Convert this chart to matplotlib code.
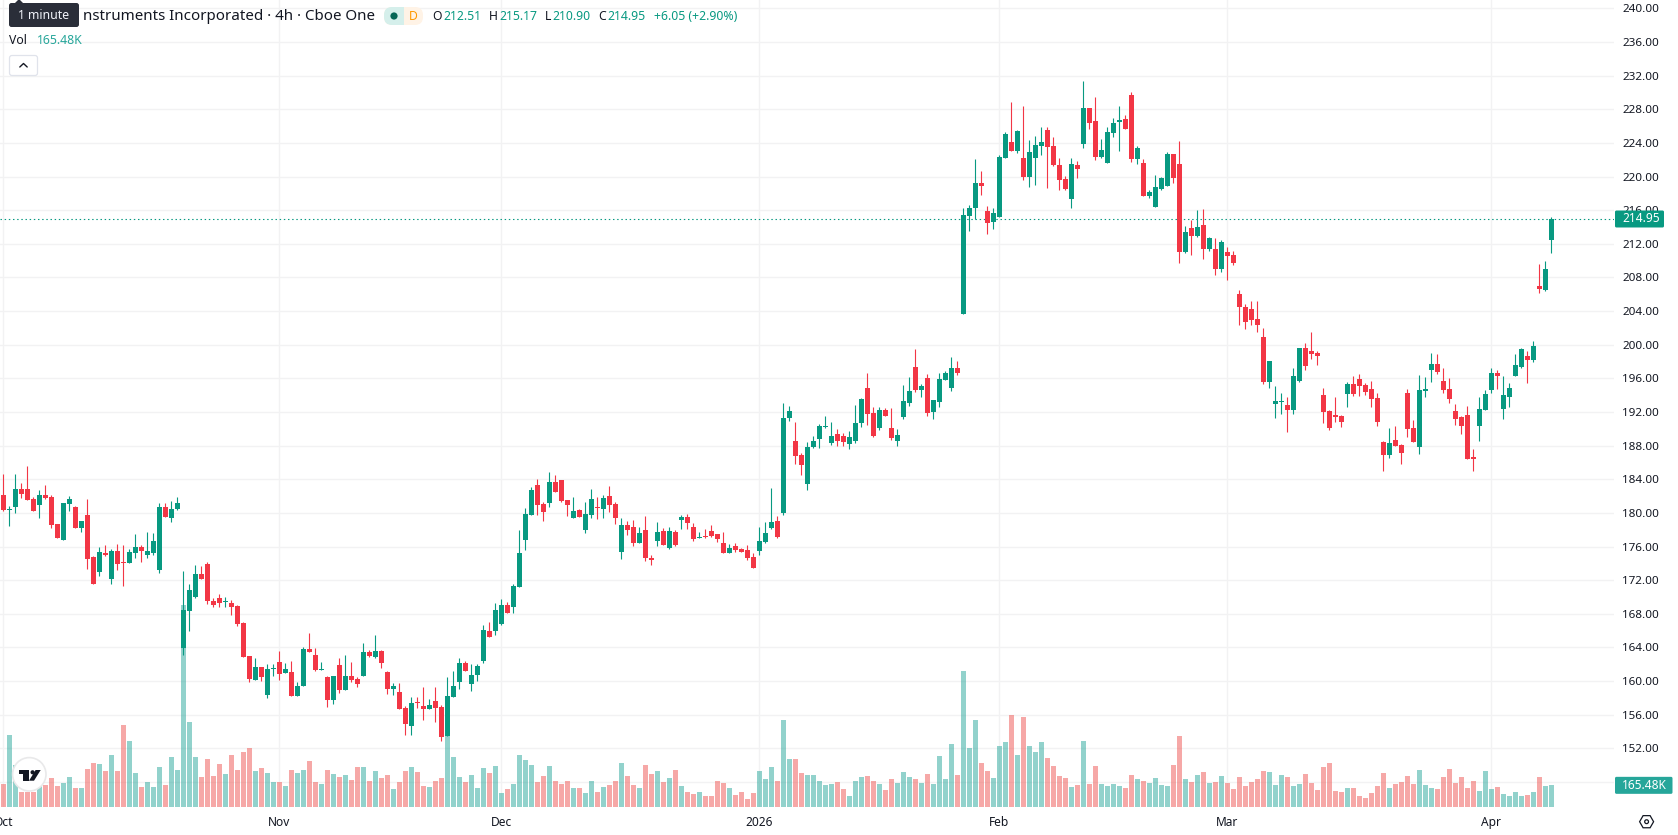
import matplotlib
matplotlib.use("Agg")
import matplotlib.pyplot as plt
from matplotlib.patches import Circle, FancyBboxPatch, Polygon, Rectangle, RegularPolygon
from matplotlib.transforms import blended_transform_factory

plt.rcParams['font.family'] = ['Noto Sans', 'DejaVu Sans']

# 4h candles
opens = [
    182.10,180.31,180.67,182.81,182.81,181.62,180.91,182.10,181.86,178.65,
    176.75,181.03,180.67,178.18,179.72,174.73,172.95,175.21,172.12,175.44,
    174.14,174.02,175.21,175.92,174.97,175.21,173.19,180.67,179.36,180.43,
    163.92,168.31,169.98,172.71,173.90,169.50,169.86,169.38,169.27,168.91,
    166.89,162.97,160.12,161.66,158.34,161.42,162.26,160.95,161.07,158.22,
    159.40,163.80,163.09,161.31,160.47,157.74,161.90,158.93,160.59,160.24,
    160.59,163.44,162.85,163.56,161.07,159.05,158.69,156.79,154.65,157.50,
    157.03,156.67,157.62,156.91,153.46,158.10,159.88,162.14,159.64,160.71,
    162.38,165.94,165.94,166.77,169.03,168.79,171.16,176.74,179.71,183.27,
    181.02,181.14,183.63,183.87,181.49,179.35,180.30,177.93,179.71,180.66,
    180.42,181.97,181.02,175.31,178.52,178.28,176.38,177.93,174.60,176.62,
    177.81,175.79,177.69,179.12,179.47,178.28,176.98,177.22,177.81,177.45,
    176.38,175.20,176.03,175.67,175.55,174.72,175.43,176.50,178.17,179.00,
    179.95,191.23,188.50,186.84,183.39,187.79,188.74,190.18,188.30,189.40,
    189.20,188.20,188.50,190.65,194.81,191.84,190.06,192.20,190.06,188.60,
    191.36,193.03,197.30,194.57,196.00,191.96,193.15,195.76,194.81,197.19,
    203.64,215.29,216.24,219.21,215.88,214.57,215.17,222.18,224.08,223.01,
    222.18,219.92,222.18,223.60,225.50,223.60,221.35,219.68,217.29,221.35,
    223.84,228.12,226.57,222.30,221.58,225.15,226.45,226.81,229.66,222.06,
    221.58,217.66,216.36,218.49,218.85,222.65,221.46,211.05,213.91,212.96,
    214.26,211.41,211.41,209.03,211.05,210.70,206.06,204.52,204.28,203.09,
    200.96,195.61,193.00,193.23,192.88,192.28,195.73,199.65,199.29,199.06,
    194.07,192.17,191.69,191.57,194.18,195.37,195.97,195.25,194.78,193.71,
    188.48,186.94,188.72,188.13,194.30,190.15,187.89,194.54,197.04,197.75,
    195.73,194.78,192.17,191.45,191.69,186.70,190.38,192.28,194.66,196.68,
    192.40,193.83,196.32,197.39,198.70,198.22,207.02,206.54,212.51,
]
highs = [
    184.59,180.79,184.59,183.52,185.54,181.86,182.69,183.28,182.10,178.65,
    181.15,181.98,180.79,179.01,181.62,174.85,175.92,176.16,175.68,176.28,
    176.16,175.68,177.46,176.16,177.70,177.58,181.15,181.15,181.38,181.86,
    173.07,171.52,173.78,173.66,174.14,169.86,170.34,169.98,169.62,169.03,
    167.01,162.97,162.73,161.66,162.02,162.02,163.56,162.14,162.38,159.88,
    164.04,165.70,163.92,162.26,160.59,160.59,162.73,163.09,162.26,160.47,
    164.51,163.68,165.46,163.68,161.19,159.76,159.76,157.03,158.10,158.10,
    159.29,157.86,159.29,157.15,160.47,161.19,162.73,162.38,162.02,162.02,
    166.65,167.01,169.27,169.74,169.38,171.52,177.93,180.54,183.04,183.99,
    181.25,184.82,184.46,183.87,181.49,181.85,180.42,181.25,182.80,181.85,
    182.09,183.16,181.25,179.35,178.98,179.12,178.28,179.59,174.96,178.88,
    178.17,178.28,177.93,179.71,179.83,178.76,177.69,178.05,178.52,177.45,
    177.69,176.26,176.38,175.79,176.15,175.20,178.28,178.88,182.92,179.59,
    193.02,192.66,190.76,187.08,188.38,189.10,190.52,191.48,190.77,190.00,
    189.50,189.70,192.79,193.62,196.59,192.55,192.55,192.43,192.43,189.94,
    195.17,196.12,199.44,195.28,196.47,193.38,196.59,196.83,198.49,198.02,
    216.24,216.59,222.06,220.63,216.47,216.24,222.53,225.27,228.83,225.50,
    228.36,224.32,224.79,225.86,225.86,224.67,222.18,220.04,222.18,221.82,
    231.33,228.12,229.42,224.43,225.86,226.93,228.36,227.29,230.02,223.60,
    222.06,218.38,220.16,219.92,222.89,222.65,224.20,214.14,214.86,216.04,
    216.16,212.84,212.72,212.48,211.65,211.17,206.54,204.88,205.23,205.23,
    202.03,198.10,195.13,194.30,193.83,197.27,199.65,200.24,201.55,199.29,
    194.90,192.28,193.83,191.69,195.61,196.32,196.56,195.49,195.73,194.30,
    188.60,190.15,190.38,188.24,194.78,191.10,196.44,196.20,199.06,198.94,
    197.27,196.09,193.00,191.57,192.76,187.65,193.83,194.66,197.27,197.04,
    196.32,195.49,198.94,199.65,199.29,200.48,209.63,209.99,215.17,
]
lows = [
    180.20,178.41,179.96,181.74,181.50,180.20,179.36,181.62,178.18,176.99,
    176.75,180.20,178.18,177.70,173.30,171.52,172.47,174.85,171.52,173.19,
    171.29,174.02,174.61,174.14,174.61,174.97,172.83,179.48,178.89,180.31,
    163.09,165.94,169.86,172.12,169.15,168.79,168.79,168.79,167.84,166.53,
    162.85,159.88,160.12,160.00,157.98,160.59,160.12,160.95,158.22,158.22,
    159.40,163.44,161.19,161.31,156.91,157.27,158.57,158.93,159.88,159.29,
    160.59,162.85,162.73,161.54,158.45,158.34,156.67,153.58,153.58,156.79,
    155.37,156.67,155.13,152.87,153.46,158.10,159.05,161.19,158.81,160.00,
    162.14,165.23,165.46,166.65,168.08,168.08,171.16,175.55,179.71,179.71,
    178.98,180.66,182.44,181.25,179.59,179.35,179.47,177.57,179.35,179.23,
    179.35,180.07,178.64,174.48,177.33,176.03,176.38,174.25,173.77,176.03,
    176.15,175.67,176.03,178.05,178.05,176.62,176.98,176.98,177.10,176.50,
    175.20,175.20,175.31,175.31,174.36,173.41,174.96,176.38,178.05,176.98,
    179.71,190.88,185.77,184.46,182.68,187.67,187.67,190.06,188.10,187.90,
    188.00,187.60,188.30,190.18,190.41,189.00,189.90,191.48,188.70,187.90,
    191.13,192.67,194.33,193.74,191.48,191.13,192.55,195.76,194.45,196.35,
    203.64,213.51,214.93,217.78,213.15,213.74,215.17,222.18,223.01,222.77,
    219.56,218.73,218.97,222.53,218.61,221.23,218.38,218.38,216.24,219.80,
    223.37,225.62,221.94,222.18,221.58,224.67,223.01,225.62,221.70,221.46,
    217.66,217.43,216.36,218.38,218.85,219.21,209.70,210.94,210.70,212.84,
    210.22,211.17,208.32,208.68,207.73,209.51,202.38,201.91,202.38,201.55,
    195.37,194.90,191.33,191.81,189.67,191.81,195.61,197.04,198.34,197.63,
    190.74,189.91,190.86,190.26,192.64,193.95,193.95,194.07,192.64,190.38,
    185.04,186.58,188.01,185.87,189.08,188.48,187.06,193.83,195.61,196.56,
    194.30,193.12,190.50,189.43,186.46,185.04,188.60,192.28,194.30,194.78,
    191.21,192.64,196.32,197.27,195.49,197.99,206.18,206.42,210.90,
]
closes = [
    180.31,180.43,182.81,182.22,181.50,180.20,182.10,181.74,178.53,176.99,
    181.15,181.62,178.18,179.01,174.49,171.52,175.32,174.97,175.44,173.90,
    174.02,175.32,175.92,175.44,175.44,176.63,180.67,179.48,180.43,181.15,
    168.43,170.81,172.71,172.12,169.50,169.03,169.27,169.50,168.79,166.77,
    162.85,160.24,161.66,160.47,161.42,161.54,160.83,161.42,158.22,159.40,
    163.80,163.44,161.31,161.42,157.74,160.59,158.93,160.59,160.12,159.64,
    163.44,162.97,163.56,162.14,159.05,159.40,156.67,154.89,157.39,157.39,
    156.67,157.15,156.79,153.35,158.22,159.40,162.14,161.19,160.71,161.78,
    166.06,165.23,168.43,169.03,168.08,171.29,175.20,179.83,182.68,180.90,
    180.07,183.63,182.44,181.37,180.90,180.19,179.47,179.83,181.61,180.54,
    181.73,180.90,179.35,178.52,177.93,176.38,177.57,174.60,174.36,177.69,
    176.15,177.81,176.15,179.47,178.76,176.86,177.10,177.10,177.22,176.86,
    175.20,175.79,175.55,175.31,174.60,173.41,176.62,177.57,178.88,177.10,
    191.23,192.07,186.72,185.65,187.79,188.50,190.28,190.30,189.20,188.60,
    188.40,189.00,190.65,193.50,191.72,189.10,192.20,191.48,188.90,189.30,
    193.27,194.45,194.57,195.05,191.84,193.38,195.88,196.59,197.19,196.59,
    215.41,216.24,219.21,218.85,214.46,215.64,222.30,225.03,223.01,225.39,
    219.92,222.89,223.72,224.08,223.48,221.35,219.56,218.49,221.46,220.87,
    228.12,226.34,222.30,223.13,225.27,226.34,226.69,225.62,222.06,223.37,
    217.66,218.14,218.73,219.80,222.65,219.80,211.01,213.43,212.96,214.02,
    211.41,212.72,209.03,212.24,210.58,209.75,204.52,202.74,202.98,202.38,
    195.61,198.10,193.35,193.35,192.28,196.32,199.65,197.51,198.94,198.70,
    192.05,190.15,191.45,190.86,195.37,194.18,195.13,194.42,193.59,190.86,
    186.94,188.36,188.01,187.18,190.03,188.48,194.66,194.78,197.75,196.80,
    194.66,193.59,191.21,190.38,186.46,186.46,192.40,194.18,196.68,196.32,
    194.07,194.90,197.63,199.53,198.22,199.89,206.66,209.03,214.95,
]
# volume in thousands of shares
volumes = [
    173.1,547.4,318.3,114.6,114.6,114.6,173.1,165.5,219.0,157.9,
    180.8,226.6,142.6,142.6,287.7,333.5,325.9,272.4,394.6,272.4,
    623.8,501.6,257.1,150.2,188.4,150.2,303.0,165.5,379.4,280.1,
    1540.0,646.7,379.4,226.6,364.1,234.2,325.9,249.5,394.6,280.1,
    417.5,448.1,272.4,295.3,257.1,188.4,188.4,157.9,280.1,257.1,
    280.1,348.8,188.4,173.1,280.1,249.5,226.6,241.9,203.7,303.0,
    303.0,196.0,272.4,219.0,241.9,134.9,188.4,272.4,303.0,264.8,
    157.9,150.2,196.0,219.0,539.8,379.4,226.6,188.4,241.9,142.6,
    295.3,257.1,310.6,104.4,134.9,173.1,394.6,356.4,318.3,188.4,
    234.2,310.6,196.0,173.1,196.0,142.6,142.6,104.4,196.0,112.0,
    150.2,165.5,196.0,333.5,234.2,165.5,142.6,318.3,249.5,272.4,
    188.4,219.0,280.1,157.9,112.0,96.7,112.0,81.5,81.5,196.0,
    180.8,142.6,89.1,112.0,58.6,104.4,272.4,211.3,303.0,196.0,
    662.0,364.1,364.1,257.1,241.9,241.9,196.0,165.5,173.1,188.4,
    134.9,81.5,196.0,226.6,234.2,196.0,173.1,127.3,211.3,180.8,
    264.8,226.6,211.3,180.8,249.5,173.1,387.0,211.3,478.6,241.9,
    1036.2,448.1,662.0,333.5,272.4,219.0,463.4,493.9,700.2,394.6,
    684.9,463.4,417.5,493.9,371.7,310.6,234.2,219.0,150.2,165.5,
    501.6,173.1,310.6,173.1,157.9,173.1,157.9,142.6,241.9,211.3,
    196.0,180.8,219.0,165.5,157.9,318.3,539.8,211.3,188.4,241.9,
    264.8,180.8,188.4,234.2,180.8,134.9,226.6,157.9,188.4,211.3,
    272.4,264.8,165.5,241.9,226.6,157.9,173.1,249.5,180.8,127.3,
    303.0,333.5,119.7,112.0,142.6,142.6,81.5,66.2,104.4,157.9,
    257.1,142.6,173.1,188.4,234.2,173.1,280.1,165.5,142.6,134.9,
    226.6,287.7,180.8,226.6,142.6,196.0,119.7,272.4,134.9,150.2,
    96.7,81.5,112.0,81.5,89.1,112.0,226.6,157.9,165.48,
]

price_ticks = list(range(148, 241, 4))
# the 148 line has no label, the volume tag sits there
price_labels = ['' if p == 148 else f'{p:.2f}' for p in price_ticks]
month_bars = [0, 46, 83, 126, 166, 204, 248]
month_labels = ['Oct', 'Nov', 'Dec', '2026', 'Feb', 'Mar', 'Apr']

up_color = '#089981'
down_color = '#f23645'
vol_up = '#26a69a'
vol_down = '#ef5350'
grid_color = '#f2f2f3'
text_color = '#131722'

W, H = 1678, 835
fig = plt.figure(figsize=(W / 100, H / 100), dpi=100, facecolor='white')

# plot area ends 64 px from the right and 28 px from the bottom
ax = fig.add_axes([0, 28 / H, 1614 / W, 807 / H])
vol_ax = ax.twinx()
vol_ax.set_ylim(0, 6164)
vol_ax.axis('off')
vol_trans = blended_transform_factory(ax.transData, vol_ax.transData)

bars = list(range(len(closes)))
is_up = [c >= o for o, c in zip(opens, closes)]
colors = [up_color if u else down_color for u in is_up]
vol_colors = [vol_up if u else vol_down for u in is_up]

# volume goes under the candles but over the grid
ax.bar(bars, volumes, width=5 / 6, color=vol_colors, alpha=0.5, linewidth=0,
       transform=vol_trans, zorder=2)

ax.axhline(closes[-1], color=up_color, lw=0.8, linestyle=(0, (1.3, 2.45)), zorder=2.5)

wicks = ax.vlines(bars, lows, highs, colors=colors, linewidth=0.8, zorder=3)
wicks.set_snap(True)
body_bottom = [min(o, c) for o, c in zip(opens, closes)]
body_height = [max(abs(c - o), 0.1) for o, c in zip(opens, closes)]
ax.bar(bars, body_height, bottom=body_bottom, width=5 / 6, color=colors, linewidth=0, zorder=4)

ax.set_xlim(-3.33 / 6, (1614 - 3.33) / 6)
ax.set_ylim(145.03, 240.99)
ax.set_axisbelow(True)
ax.grid(True, color=grid_color, linewidth=1.0)
for s in ax.spines.values():
    s.set_visible(False)

ax.set_xticks(month_bars)
ax.set_xticklabels(month_labels, fontsize=8.6, color=text_color)
ax.get_xticklabels()[3].set_fontweight('bold')
ax.yaxis.tick_right()
ax.set_yticks(price_ticks)
ax.set_yticklabels(price_labels, fontsize=8.4, color=text_color)
ax.tick_params(axis='x', length=0, pad=6.5)
ax.tick_params(axis='y', length=0, pad=5.8)

# pixel-space layer for the legend, price tags and logo
ui = fig.add_axes([0, 0, 1, 1], zorder=5)
ui.set_xlim(0, W)
ui.set_ylim(H, 0)
ui.axis('off')
ui.patch.set_visible(False)


def to_px(bar, value, trans):
    return ui.transData.inverted().transform(trans.transform((bar, value)))[1]


def tag(y, x0, x1, color, text):
    ui.add_patch(FancyBboxPatch((x0, y - 8.5), x1 - x0, 17, boxstyle='round,pad=0,rounding_size=1.5',
                                fc=color, ec='none', zorder=6))
    ui.text(x0 + 7, y, text, color='white', fontsize=8.6, va='center', ha='left', zorder=7)


fig.canvas.draw()
tag(to_px(0, closes[-1], ax.transData), 1615, 1664, up_color, f'{closes[-1]:.2f}')
tag(to_px(0, volumes[-1], vol_trans), 1615, 1672.5, vol_up, f'{volumes[-1]:.2f}K')

# symbol line, the tooltip hides its first letters
ui.text(375, 16, 'nstruments Incorporated · 4h · Cboe One', ha='right', va='center',
        fontsize=10.9, color=text_color)

# status pill
ui.add_patch(FancyBboxPatch((384, 7), 39, 18, boxstyle='round,pad=0,rounding_size=8', fc='#fff3e6', ec='none'))
left_half = FancyBboxPatch((384, 7), 39, 18, boxstyle='round,pad=0,rounding_size=8', fc='#d5efeb', ec='none')
ui.add_patch(left_half)
left_half.set_clip_path(Rectangle((384, 7), 20, 18, transform=ui.transData))
ui.add_patch(Circle((394, 16), 3.6, fc='#056656', ec='none'))
ui.text(413, 16, 'D', ha='center', va='center', fontsize=8.8, color='#ff9800', fontweight='medium')

legend_parts = [
    (432, 'O', text_color), (443, '212.51', up_color),
    (489, 'H', text_color), (499.5, '215.17', up_color),
    (545, 'L', text_color), (552.5, '210.90', up_color),
    (598.5, 'C', text_color), (607.6, '214.95', up_color),
    (653.6, '+6.05 (+2.90%)', up_color),
]
for x, s, c in legend_parts:
    ui.text(x, 16, s, ha='left', va='center', fontsize=8.8, color=c)

ui.text(9, 41, 'Vol', ha='left', va='center', fontsize=8.8, color=text_color)
ui.text(36.7, 41, '165.48K', ha='left', va='center', fontsize=8.8, color=vol_up)

# collapse button
ui.add_patch(FancyBboxPatch((9.5, 55.5), 28, 20, boxstyle='round,pad=0,rounding_size=2.5',
                            fc='white', ec='#e0e3eb', lw=0.9))
ui.plot([19.8, 23.5, 27.2], [67, 63.5, 67], color=text_color, lw=1.0, solid_capstyle='round')

# tooltip
ui.add_patch(FancyBboxPatch((9, 3), 70, 24, boxstyle='round,pad=0,rounding_size=2.5',
                            fc='#2a2e39', ec='none', zorder=8))
ui.add_patch(Polygon([(15, 3), (19, -1), (23, 3)], fc='#2a2e39', ec='none', zorder=8))
ui.text(44, 15.5, '1 minute', ha='center', va='center', fontsize=8.8, color='#f0f3fa', zorder=9)

# logo badge
ui.add_patch(Circle((29.3, 774.3), 16.7, fc='white', ec='#e9e9ea', lw=1.2, zorder=6))
ui.add_patch(Polygon([(19, 770), (29.3, 770), (29.3, 780.7), (23.3, 780.7), (23.3, 774), (19, 774)],
                     fc='#131722', ec='none', zorder=7))
ui.add_patch(Circle((32.6, 772.3), 2.1, fc='#131722', ec='none', zorder=7))
ui.add_patch(Polygon([(35.6, 770), (40.7, 770), (34, 780.7), (29, 780.7)], fc='#131722', ec='none', zorder=7))

# settings icon
ui.add_patch(RegularPolygon((1646.6, 821.7), 6, radius=7, orientation=0.5236, fc='none', ec=text_color, lw=0.9))
ui.add_patch(Circle((1646.6, 821.7), 1.9, fc='none', ec=text_color, lw=0.9))

fig.savefig('out.png', dpi=100, facecolor='white')
